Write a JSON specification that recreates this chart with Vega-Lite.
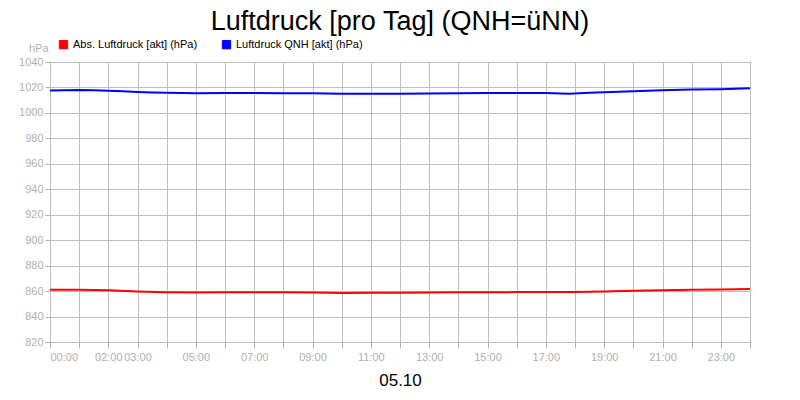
{
  "$schema": "https://vega.github.io/schema/vega-lite/v6.json",
  "autosize": {"type": "none"},
  "width": 700,
  "height": 280,
  "padding": {"left": 50, "top": 62, "right": 50, "bottom": 58},
  "background": "white",
  "title": {
    "text": "Luftdruck [pro Tag] (QNH=üNN)",
    "anchor": "middle",
    "frame": "group",
    "font": "Liberation Sans",
    "fontSize": 27,
    "fontWeight": "normal",
    "color": "black",
    "offset": 3
  },
  "config": {
    "view": {"stroke": "black", "strokeWidth": 1},
    "font": "Liberation Sans",
    "axis": {
      "domain": false,
      "gridColor": "#c0c0c0",
      "gridOpacity": 1,
      "gridWidth": 1,
      "tickColor": "#b0b0b0",
      "labelColor": "#b0b0b0",
      "labelFont": "Liberation Sans",
      "labelFontSize": 11
    }
  },
  "data": {
    "values": [
      {"h": 0, "series": "Abs. Luftdruck [akt] (hPa)", "value": 861.0},
      {"h": 1, "series": "Abs. Luftdruck [akt] (hPa)", "value": 861.1},
      {"h": 2, "series": "Abs. Luftdruck [akt] (hPa)", "value": 860.6},
      {"h": 3, "series": "Abs. Luftdruck [akt] (hPa)", "value": 859.6},
      {"h": 4, "series": "Abs. Luftdruck [akt] (hPa)", "value": 859.0},
      {"h": 5, "series": "Abs. Luftdruck [akt] (hPa)", "value": 858.8},
      {"h": 6, "series": "Abs. Luftdruck [akt] (hPa)", "value": 859.0},
      {"h": 7, "series": "Abs. Luftdruck [akt] (hPa)", "value": 859.0},
      {"h": 8, "series": "Abs. Luftdruck [akt] (hPa)", "value": 859.0},
      {"h": 9, "series": "Abs. Luftdruck [akt] (hPa)", "value": 858.9},
      {"h": 10, "series": "Abs. Luftdruck [akt] (hPa)", "value": 858.5},
      {"h": 11, "series": "Abs. Luftdruck [akt] (hPa)", "value": 858.6},
      {"h": 12, "series": "Abs. Luftdruck [akt] (hPa)", "value": 858.7},
      {"h": 13, "series": "Abs. Luftdruck [akt] (hPa)", "value": 858.8},
      {"h": 14, "series": "Abs. Luftdruck [akt] (hPa)", "value": 859.0},
      {"h": 15, "series": "Abs. Luftdruck [akt] (hPa)", "value": 859.1},
      {"h": 16, "series": "Abs. Luftdruck [akt] (hPa)", "value": 859.2},
      {"h": 17, "series": "Abs. Luftdruck [akt] (hPa)", "value": 859.2},
      {"h": 18, "series": "Abs. Luftdruck [akt] (hPa)", "value": 859.3},
      {"h": 19, "series": "Abs. Luftdruck [akt] (hPa)", "value": 859.6},
      {"h": 20, "series": "Abs. Luftdruck [akt] (hPa)", "value": 860.2},
      {"h": 21, "series": "Abs. Luftdruck [akt] (hPa)", "value": 860.7},
      {"h": 22, "series": "Abs. Luftdruck [akt] (hPa)", "value": 861.0},
      {"h": 23, "series": "Abs. Luftdruck [akt] (hPa)", "value": 861.2},
      {"h": 24, "series": "Abs. Luftdruck [akt] (hPa)", "value": 861.6},
      {"h": 0, "series": "Luftdruck QNH [akt] (hPa)", "value": 1017.6},
      {"h": 0.5, "series": "Luftdruck QNH [akt] (hPa)", "value": 1017.8},
      {"h": 1, "series": "Luftdruck QNH [akt] (hPa)", "value": 1018.0},
      {"h": 1.5, "series": "Luftdruck QNH [akt] (hPa)", "value": 1017.9},
      {"h": 2, "series": "Luftdruck QNH [akt] (hPa)", "value": 1017.5},
      {"h": 2.5, "series": "Luftdruck QNH [akt] (hPa)", "value": 1017.0},
      {"h": 3, "series": "Luftdruck QNH [akt] (hPa)", "value": 1016.4},
      {"h": 3.5, "series": "Luftdruck QNH [akt] (hPa)", "value": 1016.0},
      {"h": 4, "series": "Luftdruck QNH [akt] (hPa)", "value": 1015.8},
      {"h": 5, "series": "Luftdruck QNH [akt] (hPa)", "value": 1015.5},
      {"h": 6, "series": "Luftdruck QNH [akt] (hPa)", "value": 1015.6},
      {"h": 7, "series": "Luftdruck QNH [akt] (hPa)", "value": 1015.6},
      {"h": 8, "series": "Luftdruck QNH [akt] (hPa)", "value": 1015.5},
      {"h": 9, "series": "Luftdruck QNH [akt] (hPa)", "value": 1015.5},
      {"h": 10, "series": "Luftdruck QNH [akt] (hPa)", "value": 1015.1},
      {"h": 11, "series": "Luftdruck QNH [akt] (hPa)", "value": 1015.1},
      {"h": 12, "series": "Luftdruck QNH [akt] (hPa)", "value": 1015.1},
      {"h": 13, "series": "Luftdruck QNH [akt] (hPa)", "value": 1015.2},
      {"h": 14, "series": "Luftdruck QNH [akt] (hPa)", "value": 1015.5},
      {"h": 15, "series": "Luftdruck QNH [akt] (hPa)", "value": 1015.6},
      {"h": 16, "series": "Luftdruck QNH [akt] (hPa)", "value": 1015.6},
      {"h": 17, "series": "Luftdruck QNH [akt] (hPa)", "value": 1015.6},
      {"h": 17.8, "series": "Luftdruck QNH [akt] (hPa)", "value": 1015.1},
      {"h": 18.5, "series": "Luftdruck QNH [akt] (hPa)", "value": 1015.8},
      {"h": 19, "series": "Luftdruck QNH [akt] (hPa)", "value": 1016.2},
      {"h": 20, "series": "Luftdruck QNH [akt] (hPa)", "value": 1017.0},
      {"h": 21, "series": "Luftdruck QNH [akt] (hPa)", "value": 1017.8},
      {"h": 22, "series": "Luftdruck QNH [akt] (hPa)", "value": 1018.3},
      {"h": 23, "series": "Luftdruck QNH [akt] (hPa)", "value": 1018.6},
      {"h": 24, "series": "Luftdruck QNH [akt] (hPa)", "value": 1019.3}
    ]
  },
  "mark": {"type": "line", "strokeWidth": 2, "clip": true},
  "encoding": {
    "x": {
      "field": "h",
      "type": "quantitative",
      "scale": {"domain": [0, 24], "nice": false, "zero": false},
      "axis": {
        "values": [0, 1, 2, 3, 4, 5, 6, 7, 8, 9, 10, 11, 12, 13, 14, 15, 16, 17, 18, 19, 20, 21, 22, 23, 24],
        "labelExpr": "indexof([0, 2, 3, 5, 7, 9, 11, 13, 15, 17, 19, 21, 23], datum.value) >= 0 ? (datum.value < 10 ? '0' : '') + datum.value + ':00' : ''",
        "labelOverlap": false,
        "tickSize": 6,
        "labelPadding": 3,
        "title": "05.10",
        "titleFont": "Liberation Sans",
        "titleFontSize": 17,
        "titleFontWeight": "normal",
        "titleColor": "black",
        "titlePadding": 10
      }
    },
    "y": {
      "field": "value",
      "type": "quantitative",
      "scale": {"domain": [820, 1040], "nice": false, "zero": false},
      "axis": {
        "values": [820, 840, 860, 880, 900, 920, 940, 960, 980, 1000, 1020, 1040],
        "format": "d",
        "tickSize": 5,
        "labelPadding": 2,
        "title": "hPa",
        "titleAngle": 0,
        "titleAlign": "right",
        "titleBaseline": "middle",
        "titleX": -2,
        "titleY": -14,
        "titleColor": "#b0b0b0",
        "titleFontSize": 11,
        "titleFontWeight": "normal"
      }
    },
    "color": {
      "field": "series",
      "type": "nominal",
      "scale": {
        "domain": ["Abs. Luftdruck [akt] (hPa)", "Luftdruck QNH [akt] (hPa)"],
        "range": ["#ff0000", "#0000ff"]
      },
      "legend": {
        "title": null,
        "orient": "none",
        "legendX": 8,
        "legendY": -23,
        "direction": "horizontal",
        "symbolType": "square",
        "symbolSize": 70,
        "labelFontSize": 11,
        "labelColor": "black",
        "labelFont": "Liberation Sans",
        "columnPadding": 22,
        "labelOffset": 4,
        "encode": {
          "symbols": {
            "update": {
              "fill": {"scale": "color", "field": "value"},
              "stroke": {"value": "#202020"},
              "strokeWidth": {"value": 1},
              "opacity": {"value": 1}
            }
          }
        }
      }
    }
  }
}
